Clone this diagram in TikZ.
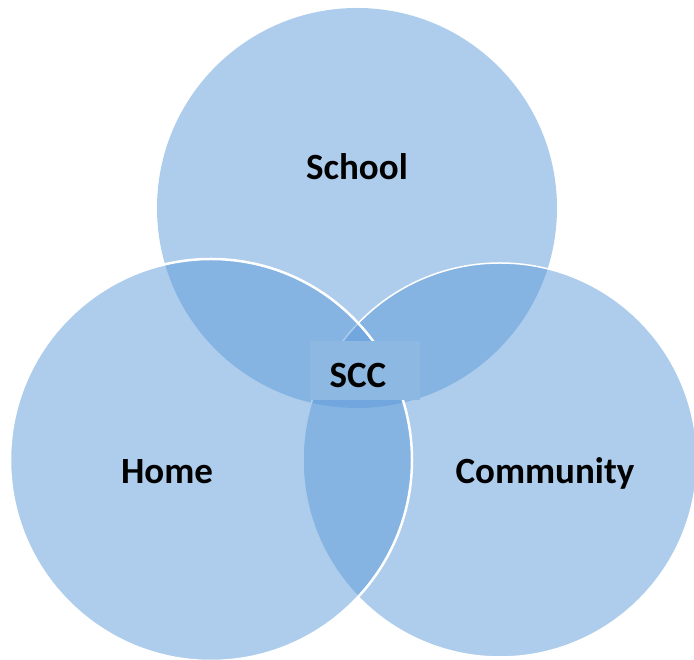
\documentclass[tikz,border=0pt]{standalone}
\usepackage{fontspec}
\setmainfont{Carlito}
\definecolor{circ}{RGB}{93,155,217}
\definecolor{sccbox}{RGB}{141,184,225}
\tikzset{
  venn/.style={fill=circ, fill opacity=0.5},
  lbl/.style={font=\bfseries\fontsize{37}{44}\selectfont, text=black, inner sep=0pt},
}
\begin{document}
\begin{tikzpicture}[x=1pt,y=1pt]
\useasboundingbox (0,0) rectangle (694,660);
\fill[venn] (357,452) circle (200);
\draw[venn, draw=white, draw opacity=1, line width=1.5pt] (500,200) circle (197);
\draw[venn, draw=white, draw opacity=1, line width=2.5pt] (211,200) circle (201);
\node[fill=sccbox, minimum width=110pt, minimum height=59pt, inner sep=0pt] (box) at (365,289.5) {};
\node[lbl] (school) at (357,493) {School};
\node[lbl] (home) at (167,188) {Home};
\node[lbl] (comm) at (545,187) {Community};
\node[lbl] (scc) at (358,284) {SCC};
\end{tikzpicture}
\end{document}
